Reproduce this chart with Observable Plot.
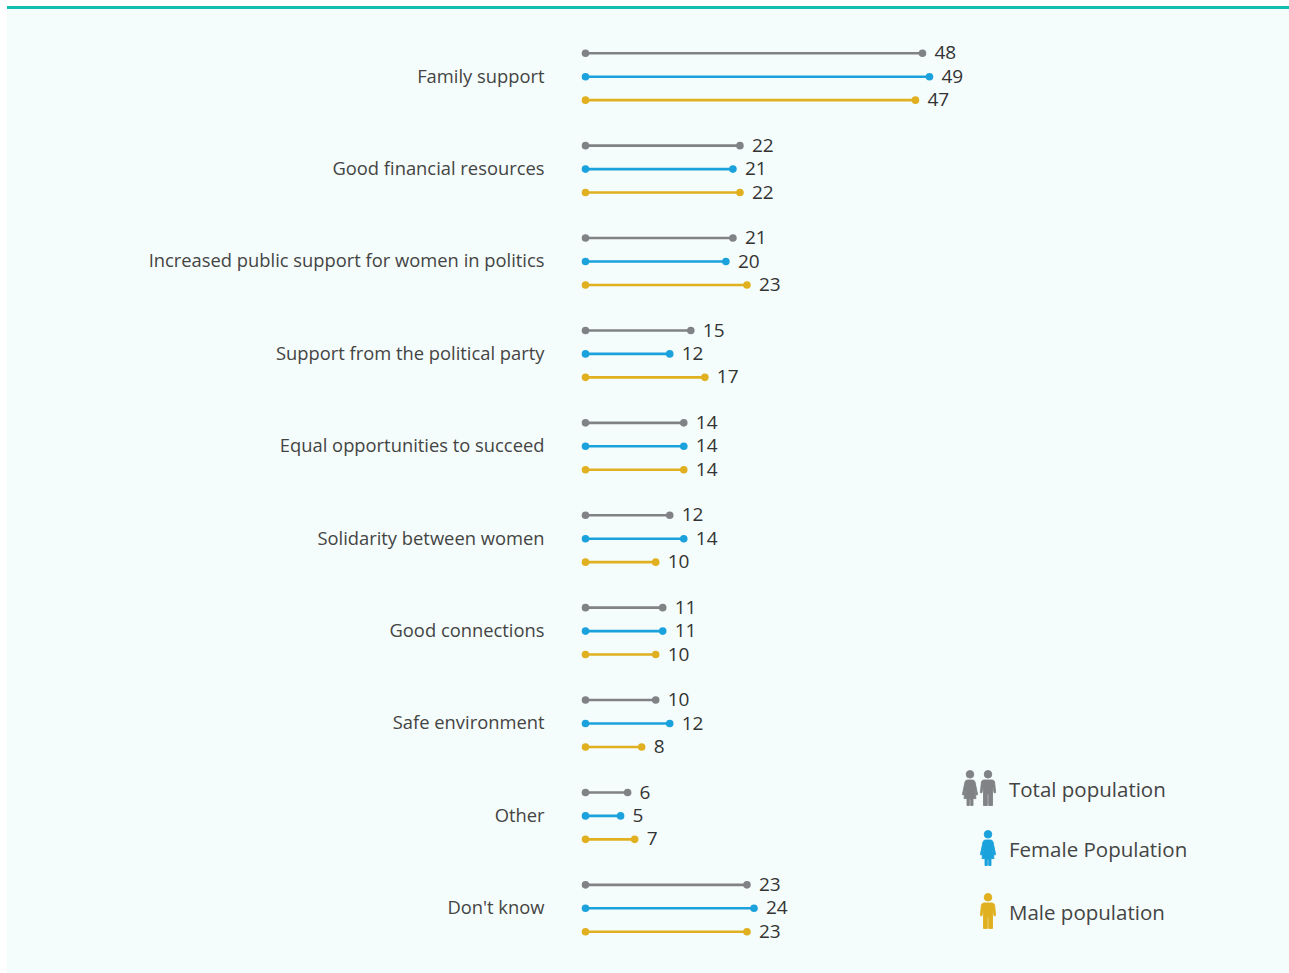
<!DOCTYPE html>
<html>
<head>
<meta charset="utf-8">
<script src="https://cdn.jsdelivr.net/npm/d3@7"></script>
<script src="https://cdn.jsdelivr.net/npm/@observablehq/plot@0.6"></script>
<style>
  html, body { margin: 0; background: #fff; overflow: hidden; }
  #panel { position: absolute; left: 7px; top: 6px; width: 1282px; height: 967px; background: #f4fdfb; border-top: 3px solid #13bdb0; box-sizing: border-box; }
  #chart { position: absolute; left: 0; top: 0; }
  #chart svg { background: transparent; }
  .key { position: absolute; left: 1009px; font: 20.5px "Open Sans", sans-serif; color: #444; line-height: 30px; white-space: nowrap; }
  .icon { position: absolute; width: 24px; height: 36px; stroke-width: 0.9; stroke-linejoin: round; }
</style>
</head>
<body>
<div id="panel"></div>
<div id="chart"></div>
<svg width="0" height="0" style="position:absolute">
  <symbol id="woman" viewBox="0 0 24 36">
    <circle cx="12" cy="4.3" r="3.8"/>
    <path d="M9.5 10H14.5Q16.5 10 17 12L19.6 24.6L18 25L16 17L18 28.6H15V35.5H12.7V29.5H11.3V35.5H9V28.6H6L8 17L6 25L4.4 24.6L7 12Q7.5 10 9.5 10Z"/>
  </symbol>
  <symbol id="man" viewBox="0 0 24 36">
    <circle cx="12" cy="4.3" r="3.8"/>
    <path d="M8 10H16Q18 10 18.6 12L19.6 22.6L18.2 23L16.5 15V35.5H12.7V24H11.3V35.5H7.5V15L5.8 23L4.4 22.6L5.4 12Q6 10 8 10Z"/>
  </symbol>
</svg>
<script>
// Factors helping women succeed, percent of respondents by population group.
const categories = [
  "Family support",
  "Good financial resources",
  "Increased public support for women in politics",
  "Support from the political party",
  "Equal opportunities to succeed",
  "Solidarity between women",
  "Good connections",
  "Safe environment",
  "Other",
  "Don't know"
];
const groups = ["Total population", "Female Population", "Male population"];
const groupColors = ["#808285", "#1ba1dc", "#e0b020"];

const totalValues  = [48, 22, 21, 15, 14, 12, 11, 10, 6, 23];
const femaleValues = [49, 21, 20, 12, 14, 14, 11, 12, 5, 24];
const maleValues   = [47, 22, 23, 17, 14, 10, 10, 8, 7, 23];

const rows = categories.flatMap((category, i) => [
  {category, group: groups[0], value: totalValues[i]},
  {category, group: groups[1], value: femaleValues[i]},
  {category, group: groups[2], value: maleValues[i]}
]);

const font = '"Open Sans", sans-serif';

const chart = Plot.plot({
  width: 1289,
  height: 973,
  marginLeft: 585,
  marginRight: 2,
  marginTop: 43.5,
  marginBottom: 32.5,
  style: {fontFamily: font, background: "transparent"},
  x: {domain: [0, 100], axis: null},
  y: {type: "point", domain: groups, padding: 0, round: false, axis: null},
  fy: {domain: categories, paddingInner: 0.4925, paddingOuter: 0.1, round: false, label: null, axis: null},
  color: {domain: groups, range: groupColors},
  marks: [
    Plot.axisFy({
      anchor: "left", tickSize: 0, tickPadding: 41, label: null,
      fontSize: 18.35, color: "#444", lineWidth: 40
    }),
    Plot.ruleY(rows, {fy: "category", y: "group", x1: 0, x2: "value", stroke: "group", strokeWidth: 2.6}),
    Plot.dot(rows, {fy: "category", y: "group", x: 0, r: 3.8, fill: "group"}),
    Plot.dot(rows, {fy: "category", y: "group", x: "value", r: 3.8, fill: "group"}),
    Plot.text(rows, {
      fy: "category", y: "group", x: "value", text: "value",
      dx: 12, textAnchor: "start", fontSize: 19, fill: "#333333"
    })
  ]
});
document.getElementById("chart").append(chart);

// Legend: pictograms with their group names, lower right of the panel.
const legend = [
  {label: groups[0], top: 773.5, color: groupColors[0], icons: [["woman", 958], ["man", 976]]},
  {label: groups[1], top: 833.5, color: groupColors[1], icons: [["woman", 976]]},
  {label: groups[2], top: 896.5, color: groupColors[2], icons: [["man", 976]]}
];
for (const item of legend) {
  const key = document.createElement("div");
  key.className = "key";
  key.style.top = item.top + "px";
  key.textContent = item.label;
  document.body.append(key);
  for (const [shape, left] of item.icons) {
    const ns = "http://www.w3.org/2000/svg";
    const icon = document.createElementNS(ns, "svg");
    icon.setAttribute("class", "icon");
    icon.setAttribute("viewBox", "0 0 24 36");
    icon.style.left = left + "px";
    icon.style.top = (item.top - 3.5) + "px";
    icon.style.fill = item.color;
    icon.style.stroke = item.color;
    const use = document.createElementNS(ns, "use");
    use.setAttribute("href", "#" + shape);
    icon.append(use);
    document.body.append(icon);
  }
}
</script>
</body>
</html>
